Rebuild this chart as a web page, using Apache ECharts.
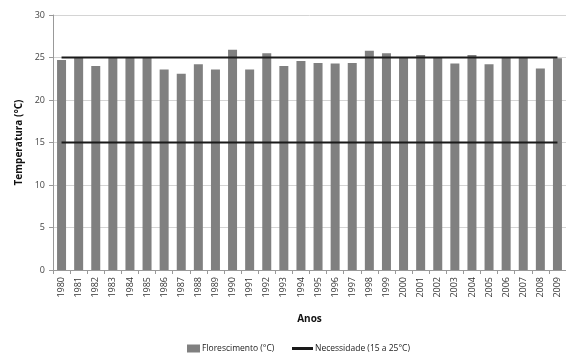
<!DOCTYPE html>
<html><head><meta charset="utf-8">
<script src="https://cdn.jsdelivr.net/npm/echarts@6/dist/echarts.min.js"></script>
<style>html,body{margin:0;padding:0;background:#fff}#c{width:566px;height:353px}</style>
</head><body><div id="c"></div>
<script>
const years = ['1980','1981','1982','1983','1984','1985','1986','1987','1988','1989','1990','1991','1992','1993','1994','1995','1996','1997','1998','1999','2000','2001','2002','2003','2004','2005','2006','2007','2008','2009'];
const florescimento = [24.7,25.0,24.0,25.0,25.0,25.0,23.6,23.1,24.2,23.6,25.9,23.6,25.5,24.0,24.6,24.35,24.3,24.35,25.8,25.5,25.0,25.3,25.0,24.3,25.3,24.2,25.0,25.0,23.7,24.9];
const necessidadeMin = [15,15,15,15,15,15,15,15,15,15,15,15,15,15,15,15,15,15,15,15,15,15,15,15,15,15,15,15,15,15];
const necessidadeMax = [25,25,25,25,25,25,25,25,25,25,25,25,25,25,25,25,25,25,25,25,25,25,25,25,25,25,25,25,25,25];
const yTicks = [0,5,10,15,20,25,30];

const FONT = 'Open Sans';
const chart = echarts.init(document.getElementById('c'), null, {renderer:'canvas'});
const lineName = 'Necessidade (15 a 25°C)';
chart.setOption({
  animation:false,
  textStyle:{fontFamily:FONT},
  grid:{left:53, width:516, top:15, bottom:83, containLabel:false},
  legend:[
    {data:[{name:'Florescimento (°C)', icon:'rect'}], left:182, top:339, itemWidth:13, itemHeight:8, itemGap:4,
     textStyle:{fontFamily:FONT, fontSize:8.5, color:'#222', padding:[0,0,0,-3]}},
    {data:[{name:lineName, icon:'rect'}], left:287, top:339, itemWidth:21, itemHeight:3,
     textStyle:{fontFamily:FONT, fontSize:8.5, color:'#222', padding:[0,0,0,-3]}}
  ],
  xAxis:{
    type:'category', data:years, boundaryGap:true,
    name:'Anos', nameLocation:'middle', nameGap:44,
    nameTextStyle:{fontFamily:FONT, fontWeight:'bold', fontSize:10, color:'#111'},
    axisLine:{lineStyle:{color:'#999', width:1}},
    axisTick:{show:true, alignWithLabel:false, length:4, lineStyle:{color:'#999'}},
    axisLabel:{rotate:90, fontSize:9, color:'#333', margin:7, interval:0}
  },
  yAxis:{
    type:'value', min:0, max:30, interval:5,
    name:'Temperatura (°C)', nameLocation:'middle', nameGap:28,
    nameTextStyle:{fontFamily:FONT, fontWeight:'bold', fontSize:10, color:'#111'},
    axisLine:{show:true, lineStyle:{color:'#999'}},
    axisTick:{show:true, length:4, lineStyle:{color:'#999'}},
    axisLabel:{fontSize:9, color:'#444', margin:8,
      formatter:function(v){return yTicks.indexOf(v)>=0 ? String(v) : '';}},
    splitLine:{show:true, lineStyle:{color:'#d4d4d4', width:1}}
  },
  series:[
    {name:'Florescimento (°C)', type:'bar', data:florescimento, barWidth:9,
     itemStyle:{color:'#808080'}, z:2},
    {name:lineName, type:'line', data:necessidadeMin, symbol:'none',
     lineStyle:{color:'#1a1a1a', width:2}, itemStyle:{color:'#1a1a1a'}, z:3},
    {name:lineName, type:'line', data:necessidadeMax, symbol:'none',
     lineStyle:{color:'#1a1a1a', width:2}, itemStyle:{color:'#1a1a1a'}, z:3}
  ]
});
</script></body></html>
